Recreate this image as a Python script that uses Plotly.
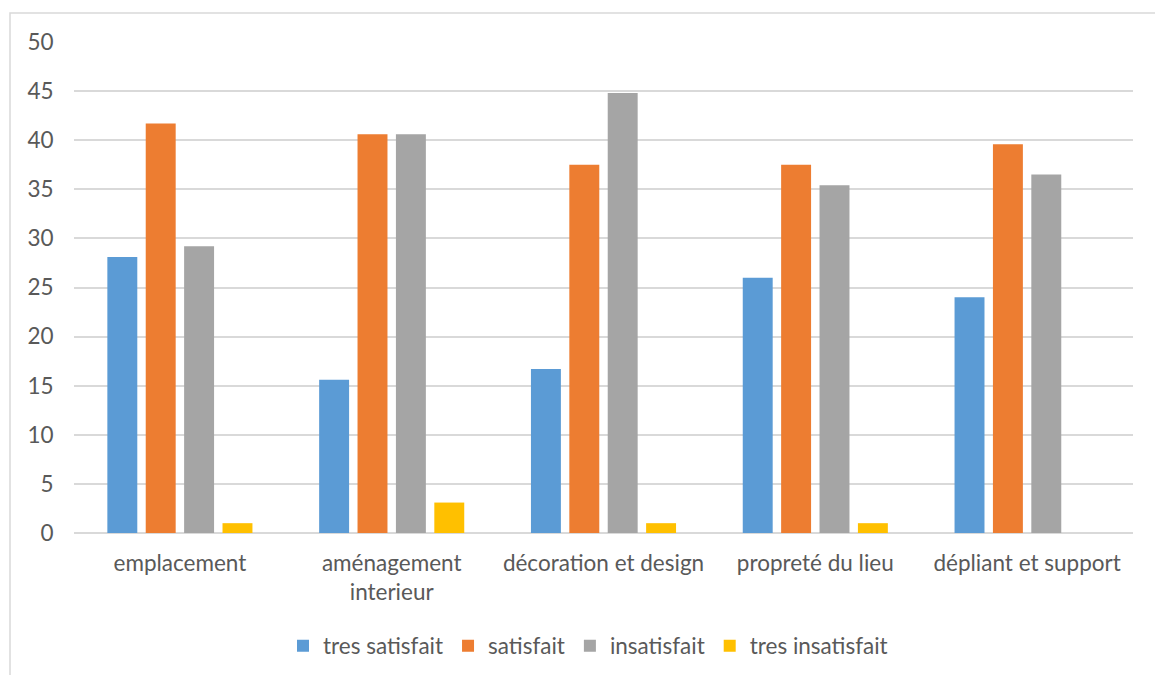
import plotly.graph_objects as go

# Survey results (% of respondents, n = 96) per aspect of the venue
categories = [
    "emplacement",
    "aménagement<br>interieur",
    "décoration et design",
    "propreté du lieu",
    "dépliant et support",
]
tres_satisfait = [28.1, 15.6, 16.7, 26.0, 24.0]
satisfait = [41.7, 40.6, 37.5, 37.5, 39.6]
insatisfait = [29.2, 40.6, 44.8, 35.4, 36.5]
tres_insatisfait = [1.0, 3.1, 1.0, 1.0, 0.0]

series_names = ["tres satisfait", "satisfait", "insatisfait", "tres insatisfait"]
series_values = [tres_satisfait, satisfait, insatisfait, tres_insatisfait]
series_colors = ["#5B9BD5", "#ED7D31", "#A5A5A5", "#FFC000"]

y_ticks = [0, 5, 10, 15, 20, 25, 30, 35, 40, 45, 50]

FONT = "Lato"
TEXT = "#595959"
FS = 22.5

fig = go.Figure()
for name, vals, col in zip(series_names, series_values, series_colors):
    fig.add_trace(go.Bar(
        name=name,
        x=categories,
        y=vals,
        marker=dict(color=col, line=dict(width=0)),
    ))

W, H = 1155, 675
L, R, T, B = 74, 22, 42, 142
pw, ph = W - L - R, H - T - B

# light frame around the whole chart area
def px_x(p):
    return (p - L) / pw

def px_y(p):
    return (H - B - p) / ph

fig.add_shape(
    type="rect", xref="paper", yref="paper",
    x0=px_x(10), x1=px_x(1170), y0=px_y(690), y1=px_y(13),
    line=dict(color="#D9D9D9", width=1.5), fillcolor="rgba(0,0,0,0)",
    layer="below",
)

fig.update_layout(
    width=W, height=H,
    margin=dict(l=L, r=R, t=T, b=B, autoexpand=False),
    paper_bgcolor="white", plot_bgcolor="white",
    barmode="group", bargap=0.275, bargroupgap=0.22,
    font=dict(family=FONT, color=TEXT, size=FS),
    showlegend=True,
    legend=dict(
        orientation="h", x=px_x(588), xanchor="center", y=px_y(646), yanchor="middle",
        font=dict(family=FONT, size=FS, color=TEXT),
        itemsizing="constant", itemwidth=30, traceorder="normal",
    ),
    xaxis=dict(
        automargin=False,
        showgrid=False, showline=False, zeroline=False,
        ticks="outside", ticklen=10, tickcolor="rgba(0,0,0,0)",
        tickfont=dict(family=FONT, size=FS, color=TEXT),
    ),
    yaxis=dict(
        automargin=False,
        range=[0, 50], tickvals=y_ticks,
        showgrid=True, gridcolor="#D9D9D9", gridwidth=1.5,
        zeroline=True, zerolinecolor="#D9D9D9", zerolinewidth=1.5,
        showline=False,
        ticks="outside", ticklen=15, tickcolor="rgba(0,0,0,0)",
        tickfont=dict(family=FONT, size=FS, color=TEXT),
    ),
)

fig.write_html("out.html")
